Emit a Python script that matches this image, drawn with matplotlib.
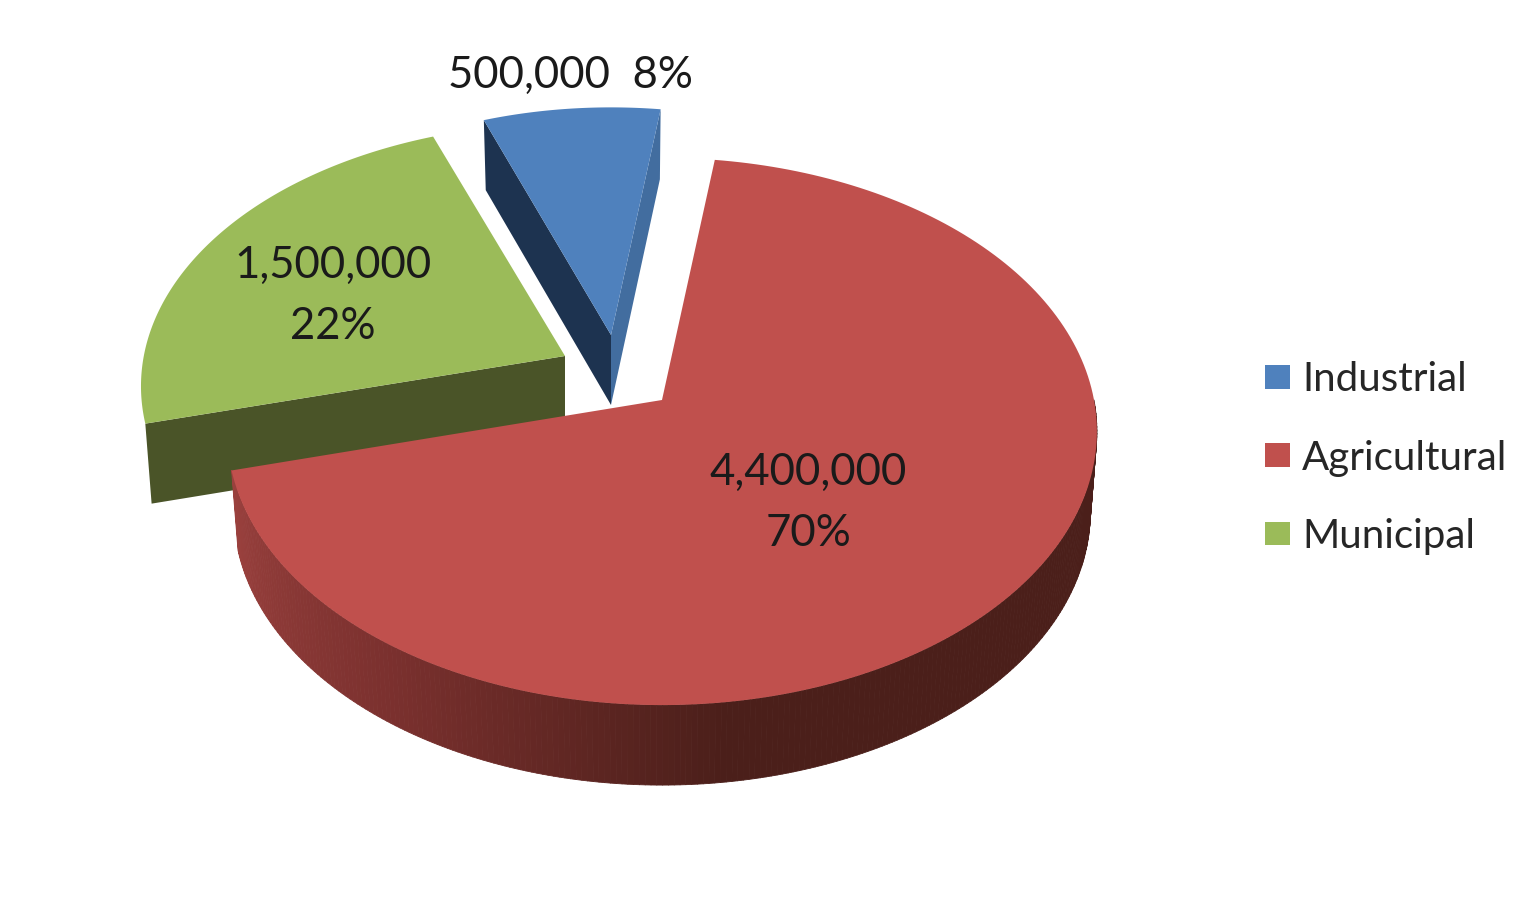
import matplotlib
matplotlib.use("Agg")
import matplotlib.pyplot as plt
from matplotlib.collections import PolyCollection
from matplotlib.patches import Patch
from matplotlib.colors import LinearSegmentedColormap
import numpy as np

categories = ["Industrial", "Agricultural", "Municipal"]
values = [500000, 4400000, 1500000]
value_labels = ["500,000  8%", "4,400,000\n70%", "1,500,000\n22%"]
colors = ["#4f81bd", "#c0504d", "#9bbb59"]

plt.rcParams['font.family'] = ['Lato', 'DejaVu Sans']

W, H = 1536, 907
START = 339.7  # degrees clockwise from the back of the pie
RX, RY = 432.0, 270.0  # disc radii in pixels
PERSP = 0.115  # back of the disc looks smaller


def rim(apex, phi, scale=(1.0, 1.0), depth=0.0):
    """ points on the disc rim, phi in degrees clockwise from the back """
    p = np.radians(phi)
    w = 1 + PERSP*np.cos(p)
    sx = 0.985 if depth else 1.0
    x = apex[0] + scale[0]*sx*RX*np.sin(p)/w
    y = apex[1] - scale[1]*RY*np.cos(p)/w + depth
    return x, y


def top_face(ax, apex, a0, a1, color, scale=(1.0, 1.0)):
    phi = np.linspace(a0, a1, 200)
    x, y = rim(apex, phi, scale)
    ax.fill(np.r_[apex[0], x], np.r_[apex[1], y], color=color, lw=0)


def cut_wall(ax, apex, a, color, depth, scale=(1.0, 1.0)):
    x, y = rim(apex, a, scale)
    xl, yl = rim(apex, a, scale, depth)
    ax.fill([apex[0], x, xl, apex[0]], [apex[1], y, yl, apex[1]+depth], color=color, lw=0)


fig = plt.figure(figsize=(W/100, H/100), dpi=100)
ax = fig.add_axes([0, 0, 1, 1])
ax.set_xlim(0, W)
ax.set_ylim(H, 0)
ax.axis("off")

sweep = 360*np.array(values)/sum(values)
edges = START + np.r_[0, np.cumsum(sweep)]
a_ind = edges[0], edges[1]
a_agr = edges[1] - 360, edges[2] - 360
a_mun = edges[2] - 360, edges[3] - 360

apex_ind = (611, 335)
apex_agr = (662, 400)
apex_mun = (565, 356)
scale_ind = (0.94, 0.94)
scale_mun = (0.975, 0.96)

# industrial slice
cut_wall(ax, apex_ind, a_ind[1], "#426d9f", 70, scale_ind)
cut_wall(ax, apex_ind, a_ind[0], "#1d3350", 70, scale_ind)
top_face(ax, apex_ind, a_ind[0], a_ind[1], colors[0], scale_ind)

# municipal slice
cut_wall(ax, apex_mun, a_mun[0], "#4a5428", 80, scale_mun)
top_face(ax, apex_mun, a_mun[0], a_mun[1], colors[2], scale_mun)

# agricultural slice, the outer wall is shaded along its length
wall = LinearSegmentedColormap.from_list("wall", ["#4b1f1a", "#7a302e", "#9b413e"])
phi = np.linspace(90, a_agr[1], 240)
xt, yt = rim(apex_agr, phi)
xb, yb = rim(apex_agr, phi, depth=80)
quads = [[(xt[i], yt[i]), (xt[i+1], yt[i+1]), (xb[i+1], yb[i+1]), (xb[i], yb[i])] for i in range(len(phi)-1)]
shade = np.clip((phi[:-1] - 172)/(a_agr[1] - 172), 0, 1)
ax.add_collection(PolyCollection(quads, facecolors=wall(shade), edgecolors=wall(shade), linewidths=0.6))
top_face(ax, apex_agr, a_agr[0], a_agr[1], colors[1])

fs = 31.5
txt = "#1a1a1a"
ax.text(570, 75, value_labels[0], ha="center", va="center", fontsize=fs, color=txt)
ax.text(808, 503, value_labels[1], ha="center", va="center", fontsize=fs, color=txt, linespacing=1.6)
ax.text(333, 296, value_labels[2], ha="center", va="center", fontsize=fs, color=txt, linespacing=1.6)

handles = [Patch(facecolor=c, edgecolor="none") for c in colors]
ax.legend(handles, categories, loc="center left", bbox_to_anchor=(1265/W, 1-458/H),
          bbox_transform=fig.transFigure, frameon=False, fontsize=29, labelcolor="#262626",
          handlelength=0.62, handleheight=0.52, handletextpad=0.3, labelspacing=1.02,
          borderpad=0, borderaxespad=0)

fig.savefig("out.png", dpi=100)
